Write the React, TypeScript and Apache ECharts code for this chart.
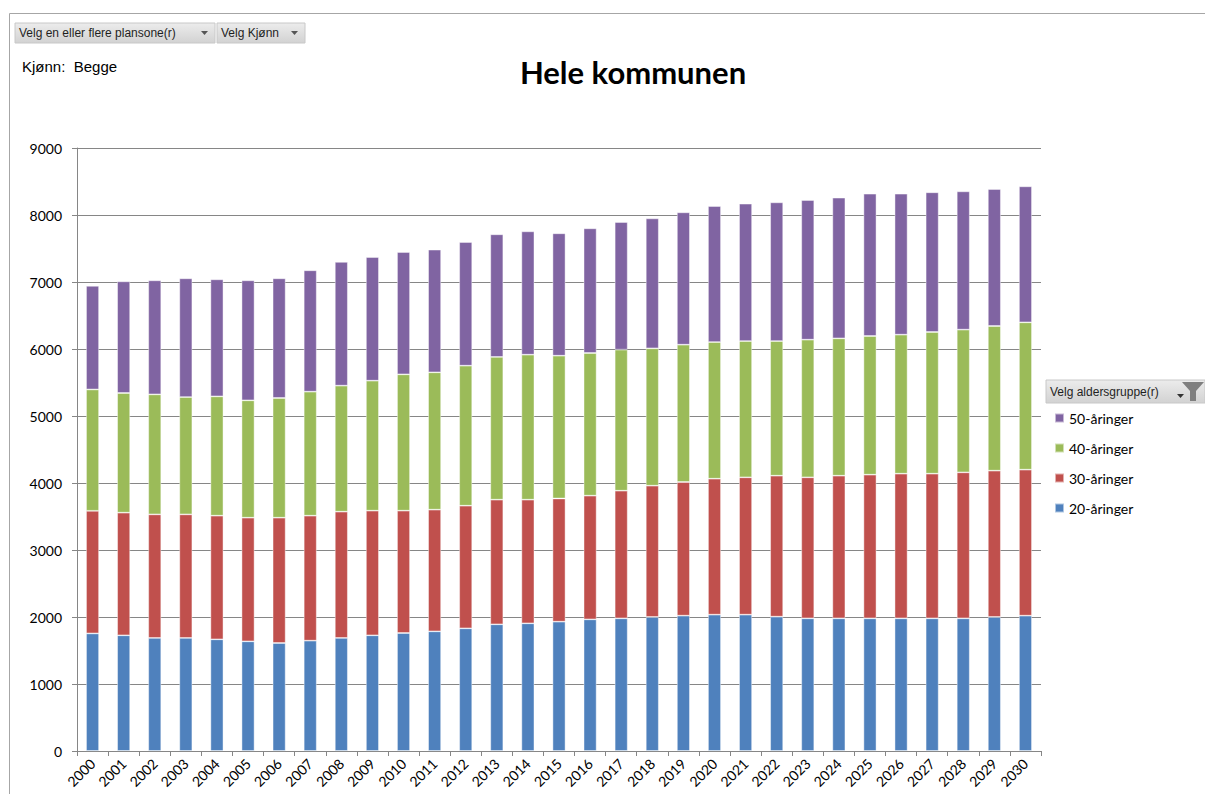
import React, { useEffect, useRef } from "react";
import * as echarts from "echarts";

const years = [
  "2000","2001","2002","2003","2004","2005","2006","2007","2008","2009",
  "2010","2011","2012","2013","2014","2015","2016","2017","2018","2019",
  "2020","2021","2022","2023","2024","2025","2026","2027","2028","2029","2030",
];
const age20 = [1755,1727,1687,1687,1667,1637,1612,1647,1687,1727,1761,1786,1831,1891,1906,1930,1965,1980,2000,2020,2035,2035,2005,1980,1980,1980,1980,1980,1980,2000,2020];
const age30 = [1830,1830,1845,1845,1845,1845,1870,1865,1885,1860,1826,1816,1830,1860,1845,1839,1846,1905,1960,1995,2029,2050,2104,2105,2129,2144,2159,2159,2179,2184,2179];
const age40 = [1811,1786,1791,1751,1781,1752,1787,1851,1881,1940,2035,2050,2090,2130,2164,2131,2129,2105,2050,2049,2040,2034,2010,2054,2050,2070,2075,2115,2130,2159,2199];
const age50 = [1547,1667,1702,1772,1747,1791,1786,1812,1847,1846,1826,1831,1846,1831,1841,1827,1861,1905,1940,1976,2030,2050,2070,2085,2100,2124,2104,2085,2064,2045,2030];
const seriesNames = ["20-åringer", "30-åringer", "40-åringer", "50-åringer"];
const seriesColors = ["#4F81BD", "#C0504D", "#9BBB59", "#8064A2"];
const yTicks = { min: 0, max: 9000, interval: 1000 };

const FONT = "Lato, 'Liberation Sans', sans-serif";
const BTN_FONT = "'Liberation Sans', Arial, sans-serif";

function buttonGraphic(x: number, y: number, w: number, h: number, label: string, arrow: boolean) {
  const children: any[] = [
    {
      type: "rect",
      shape: { x, y, width: w, height: h },
      style: {
        fill: new echarts.graphic.LinearGradient(0, 0, 0, 1, [
          { offset: 0, color: "#ececec" },
          { offset: 1, color: "#d2d2d2" },
        ]),
        stroke: "#c8c8c8",
        lineWidth: 1,
      },
    },
    {
      type: "text",
      x: x + 4,
      y: y + h / 2,
      style: { text: label, fill: "#1f1f1f", font: `12px ${BTN_FONT}`, verticalAlign: "middle" },
    },
  ];
  if (arrow) {
    const ax = x + w - 14;
    const ay = y + h / 2 - 2;
    children.push({
      type: "polygon",
      shape: { points: [[ax, ay], [ax + 7, ay], [ax + 3.5, ay + 4]] },
      style: { fill: "#555" },
    });
  }
  return { type: "group", children };
}

export default function App() {
  const ref = useRef<HTMLDivElement>(null);
  useEffect(() => {
    document.body.style.margin = "0";
    if (!ref.current) return;
    const chart = echarts.init(ref.current, undefined, { renderer: "svg" });
    const data = [age20, age30, age40, age50];
    chart.setOption({
      animation: false,
      backgroundColor: "#fff",
      textStyle: { fontFamily: FONT },
      grid: { left: 77, right: 164, top: 148, bottom: 43, containLabel: false },
      legend: {
        data: [...seriesNames].reverse(),
        orient: "vertical",
        left: 1049,
        top: 406,
        icon: "rect",
        itemWidth: 9,
        itemHeight: 9,
        itemGap: 16,
        textStyle: { fontSize: 14, color: "#000", fontFamily: FONT, lineHeight: 14 },
        selectedMode: false,
      },
      xAxis: {
        type: "category",
        data: years,
        boundaryGap: true,
        axisLine: { show: true, lineStyle: { color: "#868686", width: 1 } },
        axisTick: { show: true, length: 5, alignWithLabel: false, lineStyle: { color: "#868686" } },
        axisLabel: { rotate: 45, interval: 0, fontSize: 14, color: "#000", fontFamily: FONT, margin: 10 },
      },
      yAxis: {
        type: "value",
        min: yTicks.min,
        max: yTicks.max,
        interval: yTicks.interval,
        axisLine: { show: true, lineStyle: { color: "#868686", width: 1 } },
        axisTick: { show: true, length: 5, inside: false, lineStyle: { color: "#868686" } },
        axisLabel: {
          fontSize: 14,
          color: "#000",
          fontFamily: FONT,
          margin: 15,
          formatter: (v: number) => String(v),
        },
        splitLine: { show: true, lineStyle: { color: "#868686", width: 1 } },
      },
      series: seriesNames.map((name, i) => ({
        name,
        type: "bar",
        stack: "total",
        data: data[i],
        barWidth: 13,
        itemStyle: { color: seriesColors[i], borderColor: "rgba(255,255,255,0.55)", borderWidth: 0.8 },
      })),
      graphic: [
        { type: "line", shape: { x1: 9.5, y1: 13.5, x2: 1205, y2: 13.5 }, style: { stroke: "#a6a6a6", lineWidth: 1 } },
        { type: "line", shape: { x1: 9.5, y1: 13.5, x2: 9.5, y2: 794 }, style: { stroke: "#a6a6a6", lineWidth: 1 } },
        buttonGraphic(15, 23, 200, 20, "Velg en eller flere plansone(r)", true),
        buttonGraphic(217, 23, 88, 20, "Velg Kjønn", true),
        {
          type: "text",
          x: 22,
          y: 66,
          style: { text: "Kjønn:  Begge", fill: "#000", font: `15px ${BTN_FONT}`, verticalAlign: "middle" },
        },
        {
          type: "text",
          x: 633,
          y: 72,
          style: { text: "Hele kommunen", fill: "#000", font: `bold 31px ${FONT}`, align: "center", verticalAlign: "middle" },
        },
        buttonGraphic(1046, 380, 159, 23, "Velg aldersgruppe(r)", false),
        {
          type: "polygon",
          shape: { points: [[1177, 394], [1184, 394], [1180.5, 398]] },
          style: { fill: "#333" },
        },
        {
          type: "polygon",
          shape: {
            points: [[1182, 382], [1204, 382], [1196, 391], [1196, 401], [1190, 401], [1190, 391]],
          },
          style: { fill: "#7f7f7f" },
        },
      ],
    });
    return () => chart.dispose();
  }, []);
  return <div ref={ref} style={{ width: 1205, height: 794 }} />;
}
